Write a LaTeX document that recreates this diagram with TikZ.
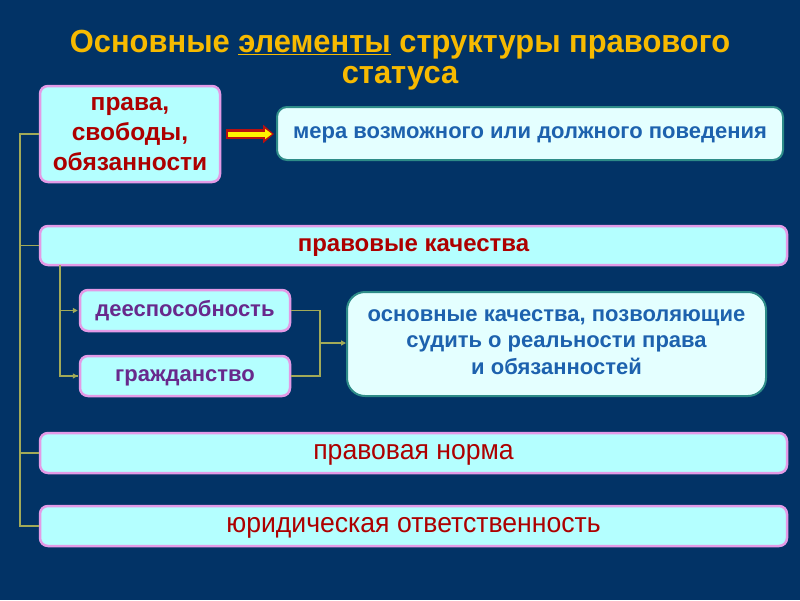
\documentclass[tikz,border=0pt]{standalone}
\usepackage{fontspec}
\setmainfont{Liberation Sans}
\newfontfamily\titlefont[FakeStretch=0.965]{Liberation Sans}
\newfontfamily\narrowfont[FakeStretch=0.95]{Liberation Sans}
\usetikzlibrary{arrows.meta}
\definecolor{bgblue}{HTML}{023366}
\definecolor{cyanfill}{HTML}{B4FFFF}
\definecolor{palefill}{HTML}{E4FFFF}
\definecolor{pinkline}{HTML}{E49AE6}
\definecolor{tealline}{HTML}{2E8C88}
\definecolor{redtext}{HTML}{AD0000}
\definecolor{bluetext}{HTML}{1D62AE}
\definecolor{purpletext}{HTML}{68298C}
\definecolor{titlegold}{HTML}{F7BA00}
\definecolor{connline}{HTML}{A2AA58}
\definecolor{arrowred}{HTML}{B81010}
\definecolor{arrowyellow}{HTML}{FFF200}
\newcommand{\vbal}{\vphantom{Ау}}
\tikzset{
  pinkbox/.style={draw=pinkline, line width=2.5pt, fill=cyanfill, rounded corners=8pt, inner sep=0pt, align=center, font=\fontsize{22}{26}\selectfont\bfseries},
  palebox/.style={draw=tealline, line width=2pt, fill=palefill, rounded corners=10pt, inner sep=0pt, align=center, text=bluetext, font=\fontsize{22}{26.5}\selectfont\bfseries},
  conn/.style={draw=connline, line width=1.8pt},
  connarrow/.style={conn, -{Triangle[length=5pt,width=5pt]}},
}
\begin{document}
\begin{tikzpicture}[x=1pt,y=-1pt]
\fill[bgblue] (0,0) rectangle (800,600);
\useasboundingbox (0,0) rectangle (800,600);

\node[text=titlegold, font=\fontsize{32}{31}\selectfont\titlefont\bfseries, align=center] (title) at (400,60)
  {Основные \underline{элементы} структуры правового\\статуса};

\node[pinkbox, text=redtext, minimum width=180pt, minimum height=96pt, font=\fontsize{24.5}{30}\selectfont\bfseries] (rights) at (130,134)
  {права,\\свободы,\\обязанности};
\node[palebox, minimum width=506pt, minimum height=53pt] (measure) at (530,133.5)
  {\vbal мера возможного или должного поведения};
\node[pinkbox, text=redtext, minimum width=747pt, minimum height=39pt, font=\fontsize{24}{26}\selectfont\bfseries] (qual) at (413.5,245.5)
  {\vbal правовые качества};
\node[pinkbox, text=purpletext, minimum width=210pt, minimum height=41pt] (capacity) at (185,310.5)
  {\vbal дееспособность};
\node[pinkbox, text=purpletext, minimum width=210pt, minimum height=40pt] (citizen) at (185,376)
  {\vbal гражданство};
\node[palebox, minimum width=419pt, minimum height=104pt, rounded corners=18pt] (basic) at (556.5,344)
  {основные качества, позволяющие\\судить о реальности права\\и обязанностей\vphantom{у}};
\node[pinkbox, text=redtext, minimum width=747pt, minimum height=40pt, font=\fontsize{28}{30}\selectfont\narrowfont] (norm) at (413.5,453)
  {\vbal правовая норма};
\node[pinkbox, text=redtext, minimum width=747pt, minimum height=40pt, font=\fontsize{28}{30}\selectfont\narrowfont] (resp) at (413.5,526)
  {\vbal юридическая ответственность};

% block arrow
\coordinate (aS) at ([xshift=5pt]rights.east);
\coordinate (aE) at ([xshift=-2pt]measure.west |- rights.east);
\draw[arrowred, line width=9.5pt, -{Triangle[length=11pt,width=18pt]}] (aS) -- (aE);
\draw[arrowyellow, line width=5pt, -{Triangle[length=7pt,width=10pt]}, shorten >=2pt] ([xshift=2pt]aS) -- (aE);

% trunk
\coordinate (trunkTop) at (20,134);
\draw[conn] (rights.west) -- (trunkTop) |- (resp.west);
\draw[conn] (qual.west) -- (qual.west -| trunkTop);
\draw[conn] (norm.west) -- (norm.west -| trunkTop);

% sub-branch
\coordinate (subTop) at (60,265);
\draw[conn] (subTop) |- ([xshift=-1pt]citizen.west);
\draw[connarrow] (subTop |- citizen.west) -- ([xshift=-1pt]citizen.west);
\draw[connarrow] (subTop |- capacity.west) -- ([xshift=-1pt]capacity.west);

% join to right box
\coordinate (join) at (320,343);
\draw[conn] (capacity.east) -| (join);
\draw[conn] (citizen.east) -| (join);
\draw[connarrow] (join) -- (join -| basic.west);
\end{tikzpicture}
\end{document}
